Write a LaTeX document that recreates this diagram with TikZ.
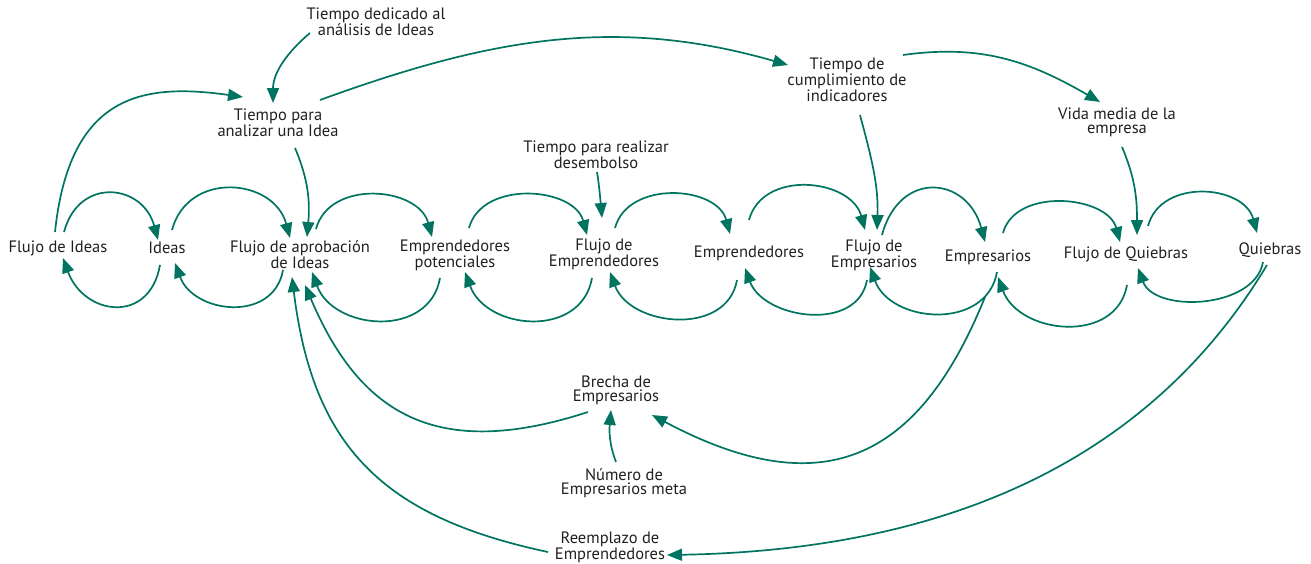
\documentclass[tikz,border=0pt]{standalone}
\usepackage{fontspec}
\setmainfont{PT Sans}
\usetikzlibrary{arrows.meta,calc}
\definecolor{flow}{RGB}{0,116,96}
\definecolor{ink}{RGB}{35,31,32}
\begin{document}
\begin{tikzpicture}[x=1pt,y=1pt,
  lbl/.style={align=center,font=\fontsize{16.5}{14}\selectfont,text=ink,inner sep=0pt},
  link/.style={draw=flow,line width=1.7pt,-{Triangle[length=15pt,width=12pt]}},
  uparc/.style={out=75,in=105,distance=#1},
  downarc/.style={out=-100,in=-70,distance=#1}]
\useasboundingbox (0,0) rectangle (1311,-563);

% stock and flow chain
\node[lbl] (fi)  at (58,-248)   {Flujo de Ideas};
\node[lbl] (id)  at (167,-248)  {Ideas};
\node[lbl] (fa)  at (300,-255)  {Flujo de aprobación\\de Ideas};
\node[lbl] (ep)  at (455,-255)  {Emprendedores\\potenciales};
\node[lbl] (fe)  at (604,-254)  {Flujo de\\Emprendedores};
\node[lbl] (em)  at (749,-253)  {Emprendedores};
\node[lbl] (fem) at (874,-255)  {Flujo de\\Empresarios};
\node[lbl] (es)  at (988,-257)  {Empresarios};
\node[lbl] (fq)  at (1126,-254) {Flujo de Quiebras};
\node[lbl] (qb)  at (1270,-250) {Quiebras};

% auxiliary variables
\node[lbl] (tpa) at (278,-123)  {Tiempo para\\analizar una Idea};
\node[lbl] (tda) at (376,-22)   {Tiempo dedicado al\\análisis de Ideas};
\node[lbl] (tci) at (847,-80)   {Tiempo de\\cumplimiento de\\indicadores};
\node[lbl] (vm)  at (1117,-122) {Vida media de la\\empresa};
\node[lbl] (trd) at (596,-155)  {Tiempo para realizar\\desembolso};
\node[lbl] (br)  at (616,-390)  {Brecha de\\Empresarios};
\node[lbl] (nm)  at (624,-483)  {Número de\\Empresarios meta};
\node[lbl] (re)  at (610,-547)  {Reemplazo de\\Emprendedores};

% upper arcs, left to right
\draw[link] ($(fi)+(6,16)$)   to[uparc=58pt] ($(id)+(-9,8)$);
\draw[link] ($(id)+(5,18)$)   to[uparc=62pt] ($(fa)+(-10,17)$);
\draw[link] ($(fa)+(16,26)$)  to[uparc=52pt] ($(ep)+(-23,18)$);
\draw[link] ($(ep)+(14,27)$)  to[uparc=50pt] ($(fe)+(-17,19)$);
\draw[link] ($(fe)+(11,26)$)  to[uparc=50pt] ($(em)+(-19,19)$);
\draw[link] ($(em)+(0,33)$)   to[uparc=53pt] ($(fem)+(-9,25)$);
\draw[link] ($(fem)+(8,20)$)  to[uparc=68pt] ($(es)+(-3,15)$);
\draw[link] ($(es)+(15,24)$)  to[uparc=48pt] ($(fq)+(-6,12)$);
\draw[link] ($(fq)+(22,28)$)  to[uparc=50pt] ($(qb)+(-13,17)$);

% lower arcs, right to left
\draw[link] ($(id)+(-7,-17)$)  to[downarc=61pt] ($(fi)+(5,-10)$);
\draw[link] ($(fa)+(-17,-15)$) to[downarc=54pt] ($(id)+(8,-15)$);
\draw[link] ($(ep)+(-15,-23)$) to[downarc=62pt] ($(fa)+(12,-17)$);
\draw[link] ($(fe)+(-12,-24)$) to[downarc=62pt] ($(ep)+(10,-17)$);
\draw[link] ($(em)+(-12,-27)$) to[downarc=58pt] ($(fe)+(6,-18)$);
\draw[link] ($(fem)+(-7,-25)$) to[downarc=54pt] ($(em)+(-4,-15)$);
\draw[link] ($(es)+(9,-15)$)   to[downarc=60pt] ($(fem)+(-4,-12)$);
\draw[link] ($(fq)+(1,-31)$)   to[downarc=61pt] ($(es)+(10,-20)$);
\draw[link] ($(qb)+(-7,-12)$)  to[downarc=48pt] ($(fq)+(12,-14)$);

% delays and feedback links
\draw[link] ($(fi)+(-3,16)$)  to[out=84,in=172,out distance=140pt,in distance=100pt] ($(tpa)+(-35,26)$);
\draw[link] ($(tda)+(-66,-11)$) to[out=220,in=90,distance=30pt] ($(tpa)+(-5,20)$);
\draw[link] ($(tpa)+(42,23)$) to[out=20,in=164,distance=180pt] ($(tci)+(-59,15)$);
\draw[link] ($(tpa)+(17,-25)$) to[out=-67,in=85,distance=35pt] ($(fa)+(7,18)$);
\draw[link] ($(tci)+(56,25)$) to[out=8,in=150,distance=80pt] ($(vm)+(-17,20)$);
\draw[link] ($(tci)+(13,-35)$) to[out=-75,in=88,distance=45pt] ($(fem)+(3,25)$);
\draw[link] ($(vm)+(5,-25)$) to[out=-67,in=90,distance=35pt] ($(fq)+(11,19)$);
\draw[link] ($(trd)+(1,-17)$) to[out=-80,in=95,distance=12pt] ($(fe)+(-2,36)$);
\draw[link] ($(br)+(-28,-22)$) to[out=198,in=-67,out distance=160pt,in distance=140pt] ($(fa)+(5,-30)$);
\draw[link] ($(re)+(-62,-5)$) to[out=168,in=-83,distance=170pt] ($(fa)+(-8,-22)$);
\draw[link] ($(es)+(-3,-40)$) to[out=248,in=-28,out distance=180pt,in distance=190pt] ($(br)+(36,-25)$);
\draw[link] ($(nm)+(-8,21)$) to[out=111,in=-95,distance=20pt] ($(br)+(-5,-20)$);
\draw[link] ($(qb)+(-3,-15)$) to[out=239,in=1,distance=250pt] ($(re)+(57,-8)$);
\end{tikzpicture}
\end{document}
